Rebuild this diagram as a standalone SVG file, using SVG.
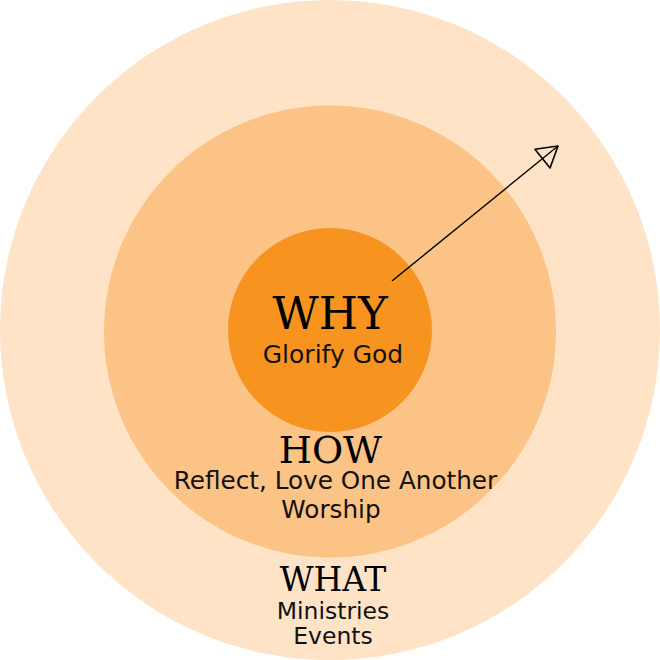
<svg xmlns="http://www.w3.org/2000/svg" width="660" height="660" viewBox="0 0 660 660">
<defs>
<style>
.title{font-family:"DejaVu Serif",serif;fill:#000;text-anchor:middle}
.sub{font-family:"DejaVu Sans",sans-serif;fill:#111;text-anchor:middle}
</style>
<marker id="open" viewBox="0 0 24 26" refX="22" refY="13" markerWidth="24" markerHeight="26" markerUnits="userSpaceOnUse" orient="auto">
<path d="M2,1 L22,13 L2,25 Z" fill="none" stroke="#000" stroke-width="1.6" stroke-linejoin="round"/>
</marker>
</defs>
<g id="what">
<circle cx="330" cy="330" r="330" fill="#FEE3C7"/>
<text class="title" x="333" y="591" font-size="33">WHAT</text>
<text class="sub" x="333" y="619" font-size="23.5">Ministries</text>
<text class="sub" x="333" y="644" font-size="23.5">Events</text>
</g>
<g id="how">
<circle cx="330" cy="331.5" r="226" fill="#FCC386"/>
<text class="title" x="330.5" y="463" font-size="38">HOW</text>
<text class="sub" x="335.5" y="489" font-size="24.7">Reflect, Love One Another</text>
<text class="sub" x="331" y="518" font-size="24.7">Worship</text>
</g>
<g id="why">
<circle cx="330" cy="330" r="102" fill="#F7941F"/>
<text class="title" x="330" y="329" font-size="45">WHY</text>
<text class="sub" x="333" y="363" font-size="25">Glorify God</text>
</g>
<g id="connectors">
<line x1="392" y1="281" x2="558" y2="146" stroke="#000" stroke-width="1.4" marker-end="url(#open)"/>
</g>
</svg>
